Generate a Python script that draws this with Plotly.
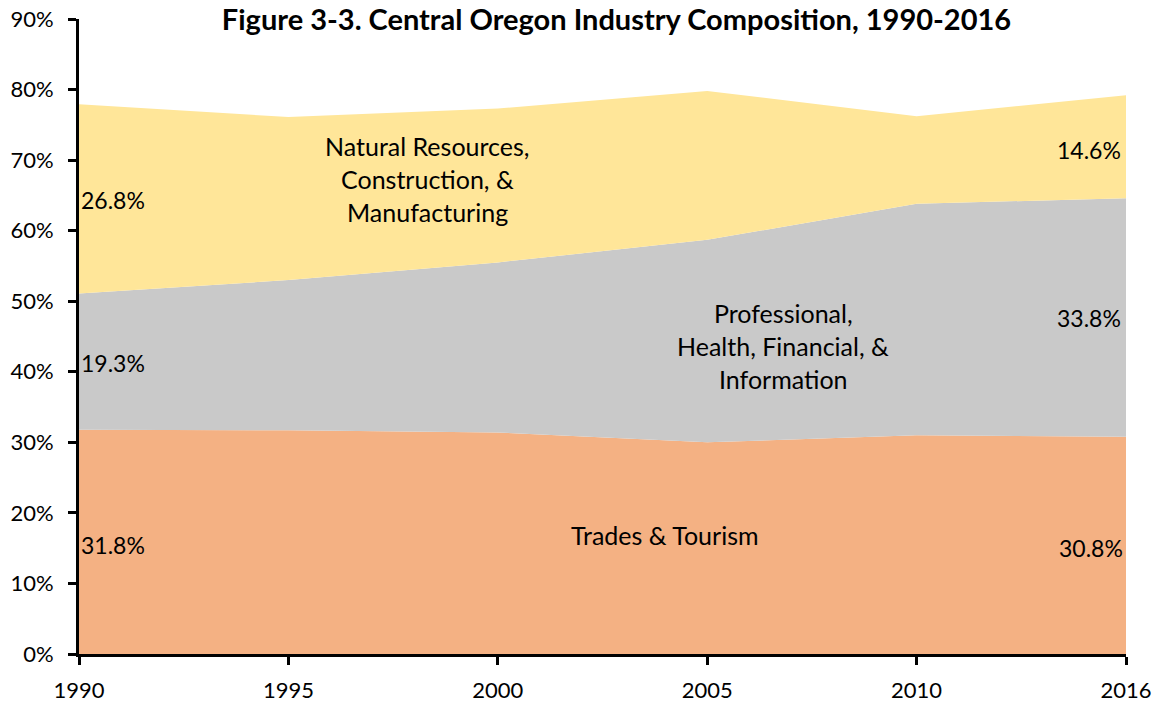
import plotly.graph_objects as go

years = ["1990", "1995", "2000", "2005", "2010", "2016"]
trades_tourism = [31.8, 31.7, 31.4, 30.0, 31.0, 30.8]
professional = [19.3, 21.3, 24.1, 28.7, 32.8, 33.8]
natural_resources = [26.8, 23.1, 21.8, 21.1, 12.4, 14.6]

colors = {"trades": "#F4B183", "prof": "#C9C9C9", "nat": "#FFE699"}
FONT = "Lato"

fig = go.Figure()
fig.add_trace(go.Scatter(x=years, y=trades_tourism, stackgroup="one", mode="lines",
                         line=dict(width=0, color=colors["trades"]), fillcolor=colors["trades"],
                         name="Trades & Tourism"))
fig.add_trace(go.Scatter(x=years, y=professional, stackgroup="one", mode="lines",
                         line=dict(width=0, color=colors["prof"]), fillcolor=colors["prof"],
                         name="Professional, Health, Financial, & Information"))
fig.add_trace(go.Scatter(x=years, y=natural_resources, stackgroup="one", mode="lines",
                         line=dict(width=0, color=colors["nat"]), fillcolor=colors["nat"],
                         name="Natural Resources, Construction, & Manufacturing"))

annots = []
def txt(x, y, t, xanchor="center", xshift=0, size=24):
    annots.append(dict(x=x, y=y, xref="x", yref="y", text=t, showarrow=False,
                       xanchor=xanchor, yanchor="middle", xshift=xshift,
                       font=dict(family=FONT, size=size, color="black")))

# first / last value labels
txt(0, 64.3, f"{natural_resources[0]}%", "left", 0, 23)
txt(0, 41.2, f"{professional[0]}%", "left", 0, 23)
txt(0, 15.4, f"{trades_tourism[0]}%", "left", 0, 23)
txt(5, 71.4, f"{natural_resources[-1]}%", "right", -3, 23)
txt(5, 47.6, f"{professional[-1]}%", "right", -3, 23)
txt(5, 15.0, f"{trades_tourism[-1]}%", "right", -1, 23)

# series labels
for yv, line in zip([72.0, 67.3, 62.6], ["Natural Resources,", "Construction, &", "Manufacturing"]):
    txt(1.662, yv, line, size=25)
for yv, line in zip([48.3, 43.65, 39.0], ["Professional,", "Health, Financial, &", "Information"]):
    txt(3.362, yv, line, size=25)
txt(2.798, 16.9, "Trades & Tourism", size=25)

fig.update_layout(
    width=1161, height=703,
    margin=dict(l=79, r=35, t=19, b=49),
    paper_bgcolor="white", plot_bgcolor="white",
    showlegend=False,
    annotations=annots,
    title=dict(text="<b>Figure 3-3. Central Oregon Industry Composition, 1990-2016</b>",
               x=0.531, xanchor="center", y=0.972, yanchor="middle",
               font=dict(family=FONT, size=29, color="black")),
    font=dict(family=FONT, size=22, color="black"),
)
fig.update_xaxes(type="category", range=[0, 5], showgrid=False, zeroline=False,
                 automargin=False,
                 showline=True, linecolor="black", linewidth=3,
                 ticks="outside", ticklen=8, tickwidth=3, tickcolor="black",
                 ticklabelstandoff=7,
                 tickfont=dict(family=FONT, size=22, color="black"))
fig.update_yaxes(range=[0, 90], dtick=10, ticksuffix="%", showgrid=False, zeroline=False,
                 automargin=False,
                 showline=True, linecolor="black", linewidth=3,
                 ticks="outside", ticklen=8, tickwidth=3, tickcolor="black",
                 ticklabelstandoff=10,
                 tickfont=dict(family=FONT, size=22, color="black"))

fig.write_html("out.html", config={"displayModeBar": False},
               post_script="document.body.style.margin='0px';document.body.style.overflow='hidden';")
